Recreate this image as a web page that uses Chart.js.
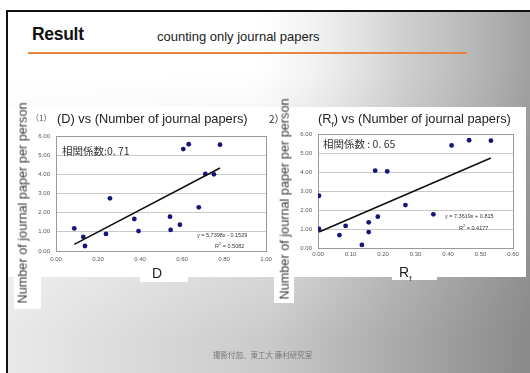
<!DOCTYPE html>
<html>
<head>
<meta charset="utf-8">
<script src="https://cdn.jsdelivr.net/npm/chart.js@4/dist/chart.umd.min.js"></script>
<style>
  html, body { margin: 0; padding: 0; }
  body { width: 530px; height: 373px; position: relative; overflow: hidden; background: #fff;
         font-family: "Liberation Sans", Arial, sans-serif; color: #222; }
  .abs { position: absolute; white-space: nowrap; line-height: 1; }
  #slide { position: absolute; left: 6px; top: 10px; width: 524px; height: 363px;
           box-sizing: border-box; border-left: 2px solid #111; border-top: 2px solid #111; overflow: hidden; }
  #bgBase { position: absolute; inset: 0;
            background: linear-gradient(to right, #e9e9e9 0px, #cacaca 260px, #8a8a8a 520px); }
  #bgTop { position: absolute; inset: 0;
           background: linear-gradient(to right, #fff 0px, #fff 250px, rgba(255,255,255,0.45) 395px, rgba(255,255,255,0.2) 520px);
           -webkit-mask-image: linear-gradient(to bottom, #000 0px, #000 60px, transparent 330px);
           mask-image: linear-gradient(to bottom, #000 0px, #000 60px, transparent 330px); }
  .white { position: absolute; background: #fff; }
  canvas { position: absolute; left: 0; top: 0; }
  .ytitle { position: absolute; white-space: nowrap; line-height: 1; font-size: 12.7px; font-weight: 400; color: #3a3a3a;
            transform: translate(-50%, -50%) rotate(-90deg); }
  .eq { position: absolute; white-space: nowrap; line-height: 1; font-size: 5.5px; color: #333; }
</style>
</head>
<body>
<div id="slide"><div id="bgBase"></div><div id="bgTop"></div></div>

<div class="abs" style="left:32px; top:26px; font-size:17.5px; font-weight:bold; color:#111; letter-spacing:-0.3px;">Result</div>
<div class="abs" style="left:157px; top:30px; font-size:13px; color:#222;">counting only journal papers</div>
<div style="position:absolute; left:28px; top:52px; width:439px; height:2px; background:#e8843f;"></div>

<!-- white chart panels and label boxes -->
<div class="white" style="left:8px; top:107px; width:518px; height:170px;"></div>
<div class="white" style="left:14px; top:262px; width:27px; height:47px;"></div>
<div class="white" style="left:140px; top:262px; width:48px; height:20px;"></div>
<div class="white" style="left:274px; top:262px; width:20px; height:41px;"></div>
<div class="white" style="left:392px; top:262px; width:45px; height:18px;"></div>

<canvas id="c1" width="530" height="373"></canvas>
<canvas id="c2" width="530" height="373"></canvas>

<!-- chart 1 texts -->
<div class="abs" style="left:31px; top:114px; font-size:8px; color:#555; font-family:'Noto Sans CJK JP';">（1）</div>
<div class="abs" style="left:57px; top:113px; font-size:12.8px;">(D) vs (Number of journal papers)</div>
<div class="ytitle" style="left:23px; top:203px;">Number of journal paper per person</div>
<div class="abs" style="left:62px; top:146px; font-size:10.5px; color:#333; font-family:'Noto Sans CJK JP';">相関係数:0. 71</div>
<div class="eq" style="left:197px; top:233px;">y = 5.7398x - 0.1529</div>
<div class="eq" style="left:215px; top:242px;">R<sup style="font-size:4px;">2</sup> = 0.5082</div>
<div class="abs" style="left:152px; top:266px; font-size:14px;">D</div>

<!-- chart 2 texts -->
<div class="abs" style="left:269px; top:114px; font-size:10px; color:#333; font-family:'Noto Sans CJK JP';">2）</div>
<div class="abs" style="left:318px; top:113px; font-size:12.8px;">(R<sub style="font-size:8px;">f</sub>) vs (Number of journal papers)</div>
<div class="ytitle" style="left:285px; top:199px;">Number of journal paper per person</div>
<div class="abs" style="left:323px; top:139px; font-size:10.5px; color:#333; font-family:'Noto Sans CJK JP';">相関係数 : 0. 65</div>
<div class="eq" style="left:445px; top:214px;">y = 7.3619x + 0.815</div>
<div class="eq" style="left:459px; top:224px;">R<sup style="font-size:4px;">2</sup> = 0.4177</div>
<div class="abs" style="left:399px; top:265px; font-size:14px;">R<sub style="font-size:8px;">f</sub></div>

<div class="abs" style="left:213px; top:351px; font-size:7.5px; color:#777; font-family:'Noto Sans CJK JP';">撮影付加、東工大 藤村研究室</div>

<script>
// D (diversity) per person and journal papers per person
const dValues  = [0.087, 0.130, 0.138, 0.238, 0.257, 0.373, 0.393, 0.543, 0.546, 0.590, 0.606, 0.632, 0.680, 0.711, 0.752, 0.781];
const papersByD = [1.18, 0.73, 0.26, 0.89, 2.75, 1.67, 1.04, 1.79, 1.10, 1.37, 5.32, 5.57, 2.28, 4.02, 4.00, 5.55];

// Rf per person and journal papers per person
const rfValues  = [0.003, 0.003, 0.066, 0.085, 0.135, 0.156, 0.156, 0.184, 0.176, 0.213, 0.269, 0.355, 0.411, 0.465, 0.532];
const papersByRf = [2.75, 1.00, 0.68, 1.16, 0.16, 1.35, 0.84, 1.65, 4.07, 4.03, 2.26, 1.77, 5.40, 5.67, 5.65];

// linear trendlines as printed on each chart
const trendD  = { slope: 5.7398, intercept: -0.1529 };
const trendRf = { slope: 7.3619, intercept: 0.815 };

// axis ranges / tick steps
const yTicks = { min: 0, max: 6, step: 1 };
const xTicksD  = { min: 0, max: 1.0, step: 0.2 };
const xTicksRf = { min: 0, max: 0.6, step: 0.1 };

const plotFrame = {
  id: 'plotFrame',
  beforeDatasetsDraw(chart) {
    const a = chart.chartArea, ctx = chart.ctx;
    ctx.save();
    ctx.strokeStyle = '#9a9a9a';
    ctx.lineWidth = 1;
    ctx.strokeRect(Math.round(a.left) + 0.5, Math.round(a.top) + 0.5,
                   Math.round(a.right - a.left), Math.round(a.bottom - a.top));
    ctx.restore();
  }
};

function scatterChart(id, xs, ys, trend, xr, area) {
  const pts = xs.map((x, i) => ({ x: x, y: ys[i] }));
  const x0 = Math.min(...xs), x1 = Math.max(...xs);
  const line = [x0, x1].map(x => ({ x: x, y: trend.slope * x + trend.intercept }));
  const tickFont = { family: "'Liberation Sans', Arial, sans-serif", size: 6 };
  return new Chart(document.getElementById(id), {
    type: 'scatter',
    data: {
      datasets: [
        { data: pts, backgroundColor: '#15157e', borderWidth: 0, pointRadius: 2.4, order: 1 },
        { data: line, type: 'line', showLine: true, borderColor: '#111', borderWidth: 1.6,
          pointRadius: 0, fill: false, order: 0 }
      ]
    },
    options: {
      responsive: false, animation: false, devicePixelRatio: 1,
      layout: { padding: { left: area.left - 30, right: 530 - area.right,
                           top: area.top, bottom: 373 - area.bottom - 12 } },
      plugins: { legend: { display: false }, tooltip: { enabled: false } },
      scales: {
        x: {
          type: 'linear', min: xr.min, max: xr.max,
          ticks: { stepSize: xr.step, autoSkip: false, maxRotation: 0, font: tickFont, color: '#555',
                   padding: area.xPad, callback: v => v.toFixed(2) },
          grid: { display: false, drawTicks: false },
          border: { color: '#9a9a9a' },
          afterFit(s) { s.height = 12; }
        },
        y: {
          min: yTicks.min, max: yTicks.max,
          ticks: { stepSize: yTicks.step, font: tickFont, color: '#555', padding: 6,
                   callback: v => v.toFixed(2) },
          grid: { color: '#c8c8c8', drawTicks: false },
          border: { color: '#9a9a9a' },
          afterFit(s) { s.width = 30; }
        }
      }
    },
    plugins: [plotFrame]
  });
}

scatterChart('c1', dValues, papersByD, trendD, xTicksD,
             { left: 56, right: 266, top: 136, bottom: 251, xPad: 5 });
scatterChart('c2', rfValues, papersByRf, trendRf, xTicksRf,
             { left: 318, right: 513, top: 134, bottom: 248, xPad: 3 });
</script>
</body>
</html>
